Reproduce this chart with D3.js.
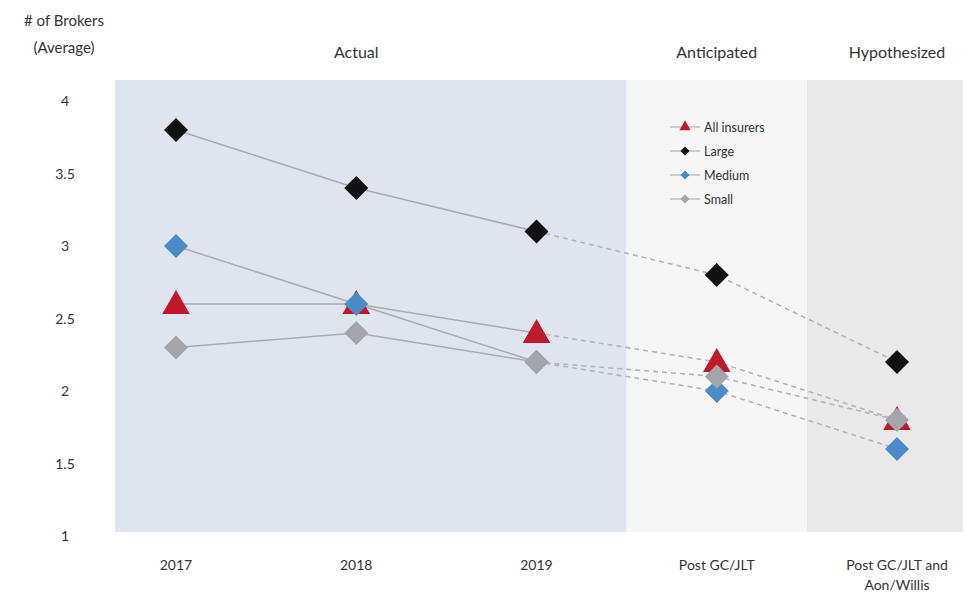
<!DOCTYPE html>
<html>
<head>
<meta charset="utf-8">
<script src="https://cdn.jsdelivr.net/npm/d3@7"></script>
<style>
  body { margin: 0; background: #fff; }
  text { font-family: Lato, "Open Sans", sans-serif; fill: #333; }
</style>
</head>
<body>
<div id="chart"></div>
<script>
// data
const categories = ["2017", "2018", "2019", "Post GC/JLT", "Post GC/JLT and Aon/Willis"];
const allInsurers = [2.6, 2.6, 2.4, 2.2, 1.8];
const large = [3.8, 3.4, 3.1, 2.8, 2.2];
const medium = [3.0, 2.6, 2.2, 2.0, 1.6];
const small = [2.3, 2.4, 2.2, 2.1, 1.8];
const yTicks = [1, 1.5, 2, 2.5, 3, 3.5, 4];
const phases = ["Actual", "Anticipated", "Hypothesized"];

const series = [
    { name: "All insurers", values: allInsurers, color: "#c0192b", shape: "triangle" },
    { name: "Large", values: large, color: "#111111", shape: "diamond" },
    { name: "Medium", values: medium, color: "#4a8bc8", shape: "diamond" },
    { name: "Small", values: small, color: "#a3a5ab", shape: "diamond" }
];

const width = 966, height = 593;

const svg = d3.select("#chart")
    .append("svg")
    .attr("width", width)
    .attr("height", height);

const xScale = d3.scalePoint()
    .domain(categories)
    .range([176, 897]);

const yScale = d3.scaleLinear()
    .domain([1, 4])
    .range([536, 101]);

// backgrounds
const step = xScale.step();
const xs = categories.map(c => xScale(c));
const bgTop = yScale(4) - 21, bgBottom = yScale(1) - 4;
const bands = [
    { x0: xs[0] - 61, x1: (xs[2] + xs[3]) / 2, fill: "#dfe5ee" },
    { x0: (xs[2] + xs[3]) / 2, x1: (xs[3] + xs[4]) / 2, fill: "#f6f6f6" },
    { x0: (xs[3] + xs[4]) / 2, x1: xs[4] + 66, fill: "#e9e9e9" }
];
svg.selectAll("rect.band")
    .data(bands)
    .enter()
    .append("rect")
    .attr("class", "band")
    .attr("x", d => d.x0)
    .attr("y", bgTop)
    .attr("width", d => d.x1 - d.x0)
    .attr("height", bgBottom - bgTop)
    .attr("fill", d => d.fill);

// phase headers
const phaseX = [xs[1], xs[3], xs[4]];
svg.selectAll("text.phase")
    .data(phases)
    .enter()
    .append("text")
    .attr("class", "phase")
    .attr("x", (d, i) => phaseX[i])
    .attr("y", 58)
    .attr("text-anchor", "middle")
    .attr("font-size", 16)
    .text(d => d);

// y axis title
svg.append("text")
    .attr("x", 64).attr("y", 26)
    .attr("text-anchor", "middle")
    .attr("font-size", 15)
    .text("# of Brokers");
svg.append("text")
    .attr("x", 64).attr("y", 53)
    .attr("text-anchor", "middle")
    .attr("font-size", 15)
    .text("(Average)");

// y tick labels
svg.selectAll("text.ytick")
    .data(yTicks)
    .enter()
    .append("text")
    .attr("class", "ytick")
    .attr("x", 65)
    .attr("y", d => yScale(d) + 5)
    .attr("text-anchor", "middle")
    .attr("font-size", 14)
    .text(d => d);

// x labels
const xLab = svg.selectAll("text.xtick")
    .data(categories)
    .enter()
    .append("text")
    .attr("class", "xtick")
    .attr("x", d => xScale(d))
    .attr("y", 570)
    .attr("text-anchor", "middle")
    .attr("font-size", 14);
xLab.each(function(d) {
    const t = d3.select(this);
    if (d === "Post GC/JLT and Aon/Willis") {
        t.append("tspan").attr("x", xScale(d)).attr("dy", 0).text("Post GC/JLT and");
        t.append("tspan").attr("x", xScale(d)).attr("dy", 20).text("Aon/Willis");
    } else {
        t.text(d);
    }
});

// lines
const line = d3.line()
    .x(d => xScale(d.cat))
    .y(d => yScale(d.v));

series.forEach(s => {
    const pts = s.values.map((v, i) => ({ cat: categories[i], v: v }));
    svg.append("path")
        .attr("d", line(pts.slice(0, 3)))
        .attr("fill", "none")
        .attr("stroke", "#a9adb3")
        .attr("stroke-width", 1.5);
    svg.append("path")
        .attr("d", line(pts.slice(2)))
        .attr("fill", "none")
        .attr("stroke", "#b4b6ba")
        .attr("stroke-width", 1.6)
        .attr("stroke-dasharray", "5,4");
});

// markers
const triangle = d3.symbol().type(d3.symbolTriangle).size(330);
function diamond(r) {
    return `M0,${-r}L${r},0L0,${r}L${-r},0Z`;
}

series.forEach(s => {
    svg.selectAll(null)
        .data(s.values)
        .enter()
        .append("path")
        .attr("transform", (d, i) => `translate(${xScale(categories[i])},${yScale(d) + (s.shape === "triangle" ? 2 : 0)})`)
        .attr("d", s.shape === "triangle" ? triangle() : diamond(12))
        .attr("fill", s.color);
});

// legend
const legend = svg.append("g")
    .attr("transform", "translate(670,127)");
series.forEach((s, i) => {
    const g = legend.append("g").attr("transform", `translate(0,${i * 24})`);
    g.append("line")
        .attr("x1", 0).attr("x2", 30)
        .attr("y1", 0).attr("y2", 0)
        .attr("stroke", "#b0b3b8")
        .attr("stroke-width", 1.2);
    g.append("path")
        .attr("transform", "translate(15,0)")
        .attr("d", s.shape === "triangle" ? d3.symbol().type(d3.symbolTriangle).size(55)() : diamond(4.5))
        .attr("fill", s.color);
    g.append("text")
        .attr("x", 34)
        .attr("y", 4.5)
        .attr("font-size", 12.5)
        .text(s.name);
});
</script>
</body>
</html>
